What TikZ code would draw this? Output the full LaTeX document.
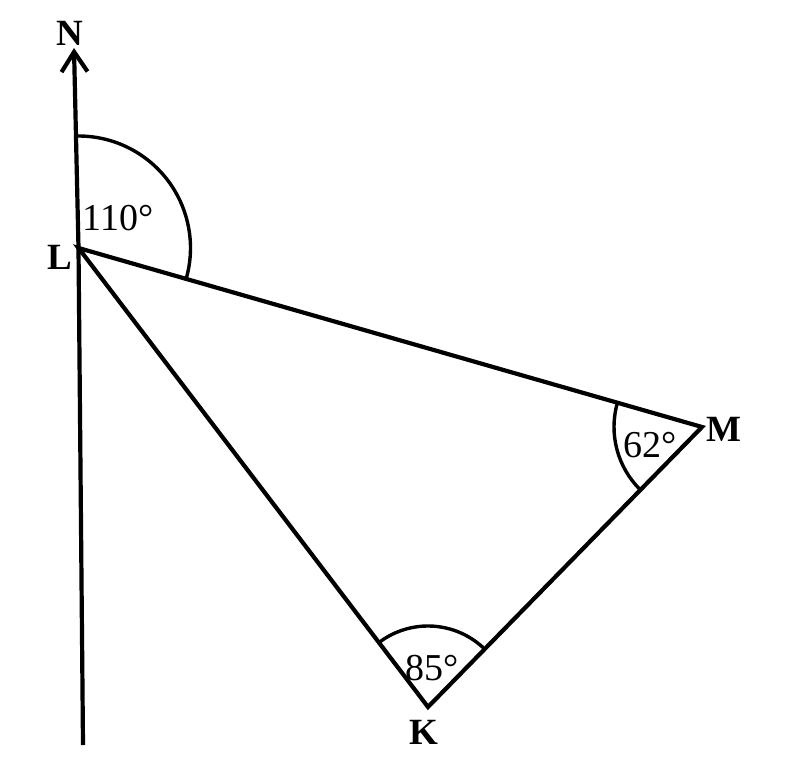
\documentclass[tikz,border=0pt]{standalone}
\usepackage{fontspec}
\setmainfont{Liberation Serif}
\usetikzlibrary{arrows.meta}
\begin{document}
\begin{tikzpicture}[x=1pt,y=1pt,
  ln/.style={line width=4.2pt, line join=miter},
  thin arc/.style={line width=3.4pt},
  vlabel/.style={font=\fontsize{37}{40}\selectfont\bfseries, inner sep=0pt},
  alabel/.style={font=\fontsize{38}{40}\selectfont, inner sep=0pt}]
\useasboundingbox (0,0) rectangle (800,780);
\coordinate (Ntip) at (74,732);
\coordinate (Sbot) at (83,35);
\coordinate (L) at (78.5,532);
\coordinate (M) at (702,353);
\coordinate (K) at (428,73);
% north line with arrow
\draw[ln, -{Straight Barb[length=20pt,width=26pt]}] (Sbot) -- (L) -- (Ntip);
% triangle
\draw[ln] (L) -- (M) -- (K) -- cycle;
% angle arcs
\draw[thin arc] ([shift={(91:112)}]L) arc[start angle=91, end angle=-16, radius=112];
\draw[thin arc] ([shift={(164:88)}]M) arc[start angle=164, end angle=225.6, radius=88];
\draw[thin arc] ([shift={(45.6:81)}]K) arc[start angle=45.6, end angle=127.2, radius=81];
% labels
\node[vlabel] (nN) at (70,747) {N};
\node[vlabel] (nL) at (60,523) {L};
\node[vlabel] (nM) at (724,351) {M};
\node[vlabel] (nK) at (424,48) {K};
\node[alabel] (a110) at (118,562) {110°};
\node[alabel] (a62) at (650,335) {62°};
\node[alabel] (a85) at (432,112) {85°};
\end{tikzpicture}
\end{document}
